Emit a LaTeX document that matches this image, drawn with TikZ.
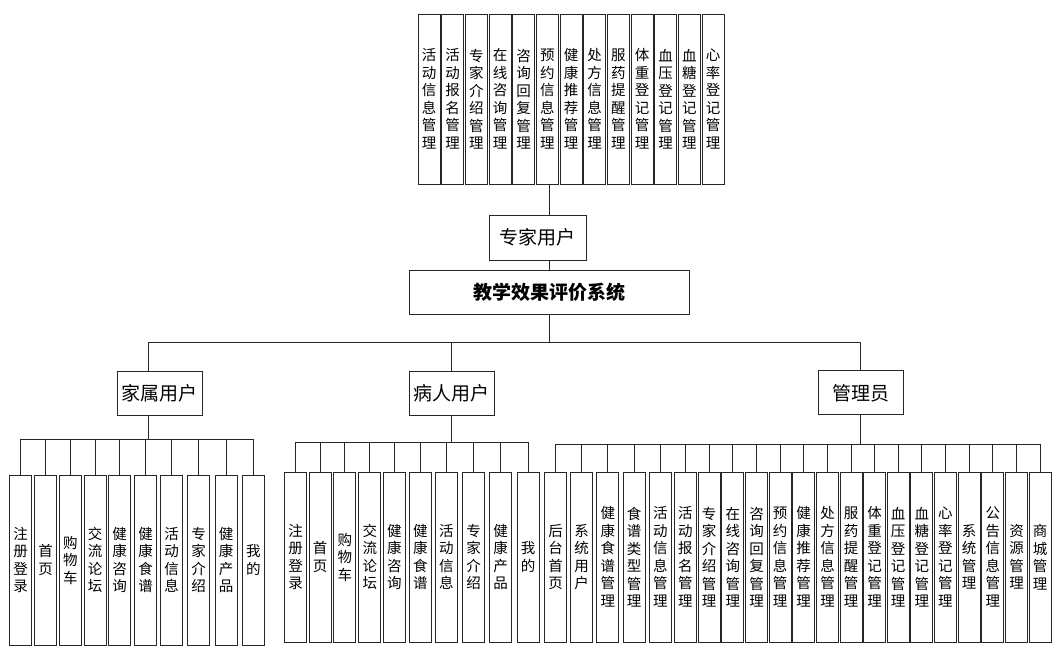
\documentclass[tikz,border=0pt]{standalone}
\usepackage{fontspec}
\setmainfont{Noto Sans CJK SC}
\makeatletter
\def\vt@loop#1{\ifx#1\relax\else\hbox to 1em{\hss#1\hss}\expandafter\vt@loop\fi}
\newcommand\vt[1]{\edef\vt@list{#1}\vbox{\expandafter\vt@loop\vt@list\relax}}
\makeatother
\tikzset{
  conn/.style={line width=0.8pt, draw=black!85},
  leaf/.style={draw=black!85, line width=0.8pt, minimum width=22pt, minimum height=170pt, inner sep=0pt, font=\fontsize{14.5}{17.5}\selectfont},
  head/.style={draw=black!85, line width=0.8pt, minimum width=85pt, minimum height=44pt, inner sep=0pt, font=\fontsize{19}{22}\selectfont},
}
\begin{document}
\begin{tikzpicture}[x=1pt,y=-1pt]
\useasboundingbox (0,0) rectangle (1061,650);
% headers
\node[head, minimum width=97pt, minimum height=45pt] (zj) at (537.5,237.5) {专家用户};
\node[draw=black!85, line width=0.8pt, minimum width=280pt, minimum height=44pt, inner sep=0pt, font=\bfseries\fontsize{19}{22}\selectfont] (main) at (549,292) {教学效果评价系统};
\node[head] (jia) at (159.5,393.5) {家属用户};
\node[head] (bing) at (451.7,393.3) {病人用户};
\node[head] (gl) at (860.8,392.8) {管理员};
% top leaves
\foreach \t [count=\i from 0] in {活动信息管理,活动报名管理,专家介绍管理,在线咨询管理,咨询回复管理,预约信息管理,健康推荐管理,处方信息管理,服药提醒管理,体重登记管理,血压登记管理,血糖登记管理,心率登记管理}
  \node[leaf] (t\i) at ({429+23.67*\i},99) {\vt{\t}};
\draw[conn] (t5.south -| main.north) -- (zj.north -| main.north);
\draw[conn] (zj.south -| main.north) -- (main.north);
% main bus
\coordinate (topbus) at (0,342);
\draw[conn] (main.south) -- (main.south |- topbus);
\draw[conn] ([xshift=-11.5pt]jia.north) |- (topbus -| gl.north) -- (gl.north);
\draw[conn] (bing.north) -- (bing.north |- topbus);
% family leaves
\foreach \t/\x [count=\i] in {注册登录/20.5,首页/45.5,购物车/70.3,交流论坛/95,健康咨询/119.5,健康食谱/145.7,活动信息/171.7,专家介绍/198.7,健康产品/226,我的/253.3}
  \node[leaf] (j\i) at (\x,560) {\vt{\t}};
\coordinate (jbus) at (0,439);
\draw[conn] ([xshift=-11.5pt]jia.south) -- ([xshift=-11.5pt]jia.south |- jbus);
\draw[conn] (j1.north |- jbus) -- (j10.north |- jbus);
\foreach \i in {1,...,10} \draw[conn] (j\i.north) -- (j\i.north |- jbus);
% patient leaves
\foreach \t/\x [count=\i] in {注册登录/295.5,首页/320.2,购物车/344.8,交流论坛/369.8,健康咨询/394.3,健康食谱/420.3,活动信息/446.3,专家介绍/473.7,健康产品/500.7,我的/528}
  \node[leaf] (b\i) at (\x,557) {\vt{\t}};
\coordinate (bbus) at (0,442);
\draw[conn] (bing.south) -- (bing.south |- bbus);
\draw[conn] (b1.north |- bbus) -- (b10.north |- bbus);
\foreach \i in {1,...,10} \draw[conn] (b\i.north) -- (b\i.north |- bbus);
% admin leaves
\foreach \t/\x [count=\i] in {后台首页/555.5,系统用户/581.7,健康食谱管理/607.8,食谱类型管理/634.2,活动信息管理/660.3,活动报名管理/685.3,专家介绍管理/709.2,在线咨询管理/732.8,咨询回复管理/756.5,预约信息管理/780,健康推荐管理/803.7,处方信息管理/827.5,服药提醒管理/851,体重登记管理/874.5,血压登记管理/898.2,血糖登记管理/921.8,心率登记管理/945.3,系统管理/969.2,公告信息管理/992.8,资源管理/1016.5,商城管理/1040}
  \node[leaf] (g\i) at (\x,557) {\vt{\t}};
\coordinate (gbus) at (0,444);
\draw[conn] (gl.south) -- (gl.south |- gbus);
\draw[conn] (g1.north |- gbus) -- (g21.north |- gbus);
\foreach \i in {1,...,21} \draw[conn] (g\i.north) -- (g\i.north |- gbus);
\end{tikzpicture}
\end{document}
